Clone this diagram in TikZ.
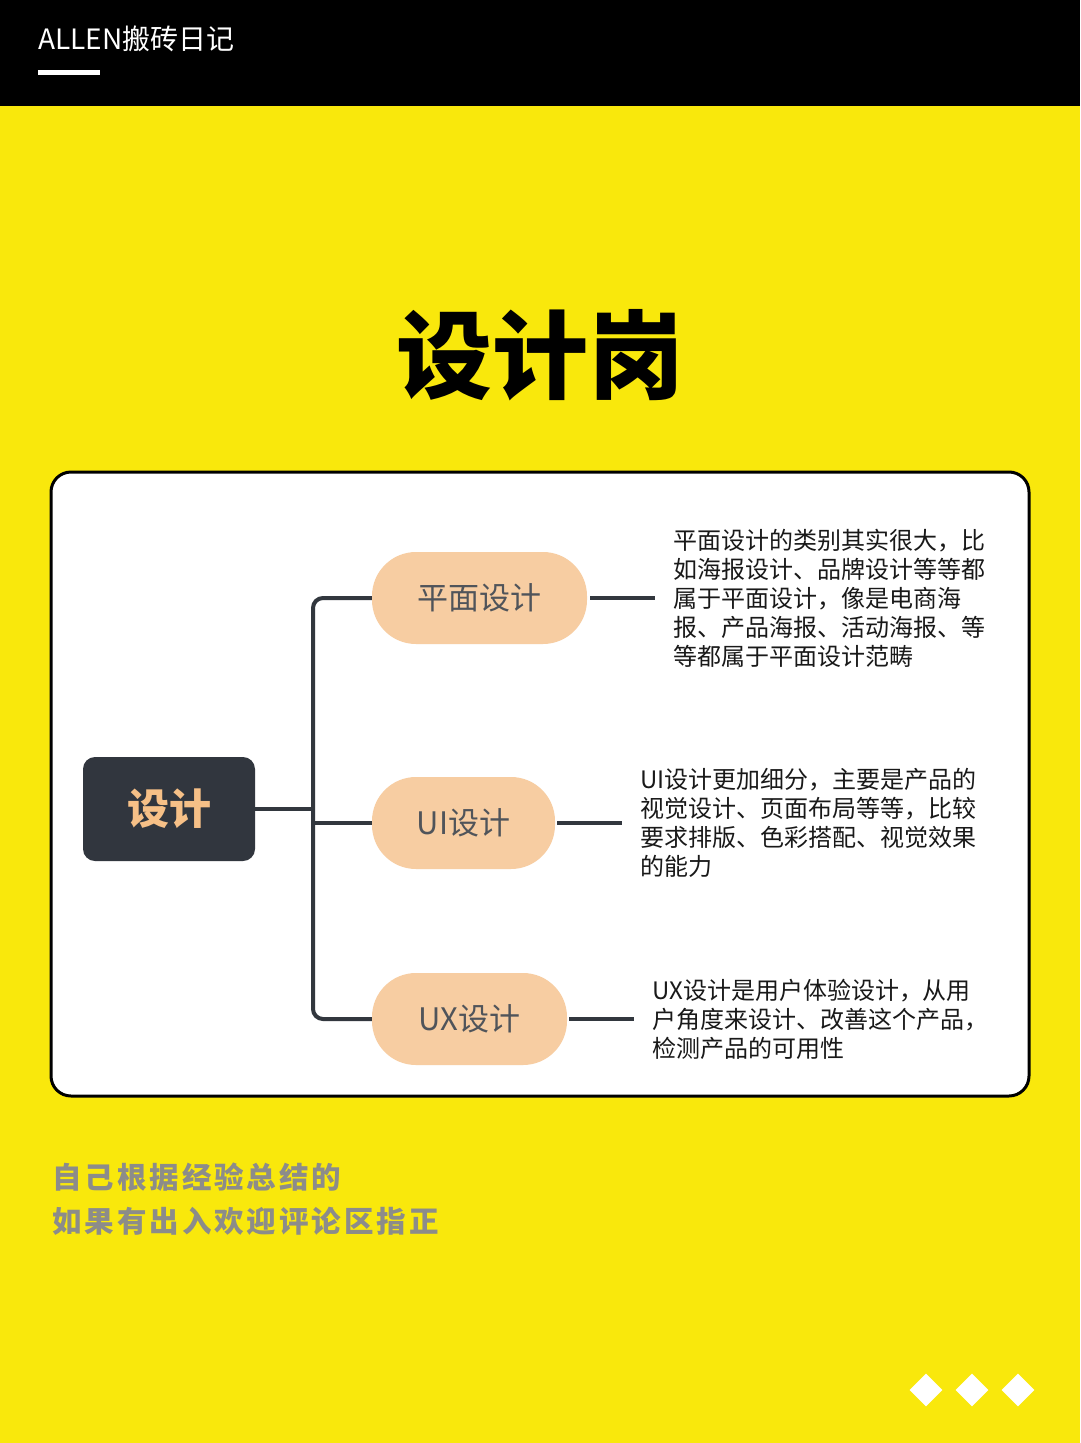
\documentclass[tikz,border=0pt]{standalone}
\usepackage{fontspec}
\usetikzlibrary{shapes.geometric}
\setmainfont{Noto Sans CJK SC}
\newfontfamily\cjkspaced[LetterSpace=10]{Noto Sans CJK SC}
\definecolor{bgyellow}{RGB}{249,232,12}
\definecolor{darknode}{RGB}{49,54,62}
\definecolor{peach}{RGB}{247,205,162}
\definecolor{peachtext}{RGB}{246,192,135}
\definecolor{childtext}{RGB}{80,84,90}
\definecolor{notegray}{RGB}{140,140,138}
\definecolor{linecol}{RGB}{50,55,62}
\begin{document}
\begin{tikzpicture}[x=1pt,y=-1pt,
  rootbox/.style={fill=darknode, rounded corners=12, minimum width=172, minimum height=104, inner sep=0,
    text=peachtext, font=\fontsize{42}{46}\selectfont\bfseries},
  childbox/.style={fill=peach, rounded corners=44, minimum height=92, inner sep=0,
    text=childtext, font=\fontsize{31}{34}\selectfont},
  descbox/.style={anchor=west, inner sep=0, align=left, text=black!90,
    font=\fontsize{24}{29}\selectfont},
  conn/.style={draw=linecol, line width=4},
  dia/.style={diamond, fill=white, minimum size=33, inner sep=0}
]
\fill[bgyellow] (0,0) rectangle (1080,1443);
\useasboundingbox (0,0) rectangle (1080,1443);
% header
\fill[black] (0,0) rectangle (1080,106);
\node[anchor=west, inner sep=0, text=white, font=\fontsize{28}{30}\selectfont] (brand) at (38,39) {ALLEN搬砖日记};
\fill[white] (38,70) rectangle (100,75);
% title
\node[inner sep=0, font=\fontsize{96}{100}\selectfont\bfseries] (title) at (540,355) {设计岗};
% panel
\draw[line width=3, fill=white, rounded corners=20] (51,472) rectangle (1029,1096);
% nodes
\node[rootbox] (root) at (169,809) {设计};
\node[childbox, minimum width=215] (pm) at (479.5,598) {平面设计};
\node[childbox, minimum width=183] (ui) at (463.5,823) {UI设计};
\node[childbox, minimum width=195] (ux) at (469.5,1019) {UX设计};
% descriptions
\node[descbox] (pmd) at (673,598) {平面设计的类别其实很大，比\\如海报设计、品牌设计等等都\\属于平面设计，像是电商海\\报、产品海报、活动海报、等\\等都属于平面设计范畴};
\node[descbox] (uid) at (640,823) {UI设计更加细分，主要是产品的\\视觉设计、页面布局等等，比较\\要求排版、色彩搭配、视觉效果\\的能力};
\node[descbox] (uxd) at (652,1019) {UX设计是用户体验设计，从用\\户角度来设计、改善这个产品，\\检测产品的可用性};
% connectors
\coordinate (ttop) at (313,598);
\coordinate (tbot) at (313,1019);
\draw[conn, rounded corners=10] (pm.west) -- (ttop) -- (tbot) -- (ux.west);
\draw[conn] (ui.west) -- (ui.west -| ttop);
\draw[conn] (root.east) -- (root.east -| ttop);
\draw[conn] ([xshift=3]pm.east) -- ([xshift=-18]pmd.west);
\draw[conn] ([xshift=2]ui.east) -- ([xshift=-18]uid.west);
\draw[conn] ([xshift=2]ux.east) -- ([xshift=-18]uxd.west);
% note
\node[anchor=west, inner sep=0, text=notegray, font=\fontsize{29.5}{32}\cjkspaced\bfseries] (note1) at (52,1177) {自己根据经验总结的};
\node[anchor=west, inner sep=0, text=notegray, font=\fontsize{29.5}{32}\cjkspaced\bfseries] (note2) at (52,1221) {如果有出入欢迎评论区指正};
% diamonds
\node[dia] (d1) at (926,1390) {};
\node[dia] (d2) at (972,1390) {};
\node[dia] (d3) at (1018,1390) {};
\end{tikzpicture}
\end{document}
